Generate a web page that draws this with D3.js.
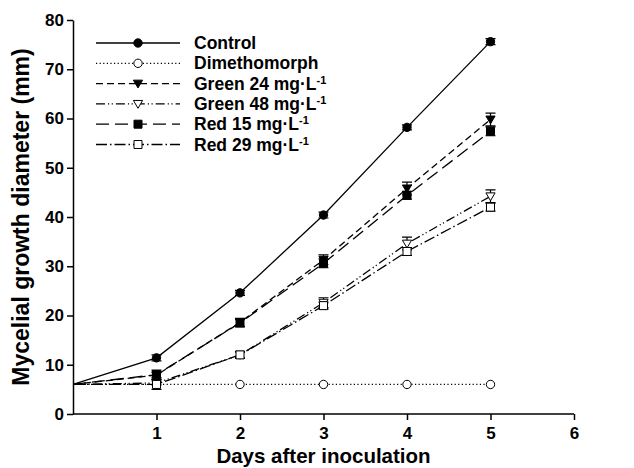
<!DOCTYPE html>
<html>
<head>
<meta charset="utf-8">
<script src="https://cdn.jsdelivr.net/npm/d3@7"></script>
<style>
  body { margin: 0; background: #fff; }
  svg { font-family: "Liberation Sans", Arial, sans-serif; }
  .axis path, .axis line { stroke: #000; stroke-width: 1.5; }
  .axis text { font-size: 17px; font-weight: bold; fill: #000; font-family: "Liberation Sans", Arial, sans-serif; }
</style>
</head>
<body>
<svg width="634" height="468"></svg>
<script>
'use strict';

// days after inoculation
const days = [0, 1, 2, 3, 4, 5];
const xTicks = [1, 2, 3, 4, 5, 6];
const yTicks = [0, 10, 20, 30, 40, 50, 60, 70, 80];

const control = [6, 11.4, 24.6, 40.4, 58.2, 75.6];
const dimethomorph = [6, 6, 6, 6, 6, 6];
const green24 = [6, 7.9, 18.6, 31.3, 45.8, 59.8];
const green48 = [6, 6.3, 12, 22.6, 34.6, 44.2];
const red15 = [6, 8, 18.5, 30.6, 44.4, 57.4];
const red29 = [6, 6, 12, 22, 33, 42];

// standard errors (mm)
const controlErr = [0, 0.6, 0.5, 0.6, 0.5, 0.6];
const dimethomorphErr = [0, 0, 0, 0, 0, 0];
const green24Err = [0, 0.5, 0.8, 1.0, 1.3, 1.3];
const green48Err = [0, 0.4, 0.6, 1.0, 1.3, 1.3];
const red15Err = [0, 0.9, 0.8, 0.9, 0.8, 0.9];
const red29Err = [0, 1.0, 0.7, 0.7, 0.8, 0.8];

const seriesNames = ["Control", "Dimethomorph", "Green 24 mg·L", "Green 48 mg·L", "Red 15 mg·L", "Red 29 mg·L"];
const unitSup = [false, false, true, true, true, true];

const series = [
    { name: seriesNames[0], values: control, err: controlErr, dash: null, sym: d3.symbolCircle, fill: "#000", size: 55 },
    { name: seriesNames[1], values: dimethomorph, err: dimethomorphErr, dash: "1.2,2.4", sym: d3.symbolCircle, fill: "#fff", size: 55 },
    { name: seriesNames[2], values: green24, err: green24Err, dash: "7,4", sym: "tri", fill: "#000", size: 55 },
    { name: seriesNames[3], values: green48, err: green48Err, dash: "9,3,1.2,2.5,1.2,3", sym: "tri", fill: "#fff", size: 55 },
    { name: seriesNames[4], values: red15, err: red15Err, dash: "13,6", sym: d3.symbolSquare, fill: "#000", size: 64 },
    { name: seriesNames[5], values: red29, err: red29Err, dash: "11,3,1.5,3", sym: d3.symbolSquare, fill: "#fff", size: 64 }
];

const svg = d3.select("svg"),
    margin = { top: 20, right: 60, bottom: 54, left: 73 },
    width = +svg.attr("width") - margin.left - margin.right,
    height = +svg.attr("height") - margin.top - margin.bottom;

const x = d3.scaleLinear().domain([0, 6]).range([0, width]),
    y = d3.scaleLinear().domain([0, 80]).range([height, 0]);

const g = svg.append("g")
    .attr("transform", `translate(${margin.left},${margin.top})`);

const markerPath = (sym, size) => {
    if (sym === "tri") {
        const r = Math.sqrt(size) * 0.62;
        return `M${-r},${-r * 0.75}L${r},${-r * 0.75}L0,${r * 0.95}Z`;
    }
    return d3.symbol().type(sym).size(size)();
};

// axes
g.append("g")
    .attr("class", "axis")
    .attr("transform", `translate(0,${height})`)
    .call(d3.axisBottom(x).tickValues(xTicks).tickFormat(d3.format("d")).tickSize(6).tickSizeOuter(0).tickPadding(7))
    .call(ax => ax.select(".domain").attr("d", `M0,0H${x(6)}`));

g.append("g")
    .attr("class", "axis")
    .call(d3.axisLeft(y).tickValues(yTicks).tickSize(6).tickSizeOuter(0).tickPadding(3));

const line = d3.line()
    .x((d, i) => x(days[i]))
    .y(d => y(d));

series.forEach(s => {
    const sg = g.append("g");
    sg.append("path")
        .datum(s.values)
        .attr("fill", "none")
        .attr("stroke", "#000")
        .attr("stroke-width", 1.3)
        .attr("stroke-dasharray", s.dash)
        .attr("d", line);

    // error bars (skip day 0)
    days.slice(1).forEach(dd => {
        const v = s.values[dd], e = s.err[dd];
        if (!e) return;
        sg.append("path")
            .attr("stroke", "#000")
            .attr("stroke-width", 1.2)
            .attr("fill", "none")
            .attr("d", `M${x(dd)},${y(v - e)}V${y(v + e)}M${x(dd) - 5},${y(v + e)}H${x(dd) + 5}M${x(dd) - 5},${y(v - e)}H${x(dd) + 5}`);
    });

    sg.selectAll("path.mk")
        .data(days.slice(1))
        .join("path")
        .attr("class", "mk")
        .attr("transform", dd => `translate(${x(dd)},${y(s.values[dd])})`)
        .attr("d", markerPath(s.sym, s.size))
        .attr("fill", s.fill)
        .attr("stroke", "#000")
        .attr("stroke-width", 1);
});

// legend
const legend = g.append("g").attr("transform", "translate(23,23)");
series.forEach((s, i) => {
    const row = legend.append("g").attr("transform", `translate(0,${i * 20.3})`);
    row.append("line")
        .attr("x1", 0).attr("x2", 84)
        .attr("stroke", "#000").attr("stroke-width", 1.3)
        .attr("stroke-dasharray", s.dash);
    row.append("path")
        .attr("transform", "translate(42,0)")
        .attr("d", markerPath(s.sym, s.size))
        .attr("fill", s.fill)
        .attr("stroke", "#000");
    const t = row.append("text")
        .attr("x", 98).attr("y", 6)
        .attr("font-size", 17.5).attr("font-weight", "bold");
    t.append("tspan").text(s.name);
    if (unitSup[i])
        t.append("tspan").attr("dy", -6).attr("font-size", 11).text("-1");
});

// axis titles
svg.append("text")
    .attr("x", margin.left + x(3)).attr("y", 463)
    .attr("text-anchor", "middle")
    .attr("font-size", 20.5).attr("font-weight", "bold")
    .text("Days after inoculation");

svg.append("text")
    .attr("transform", "translate(29,217) rotate(-90)")
    .attr("text-anchor", "middle")
    .attr("font-size", 23).attr("font-weight", "bold")
    .text("Mycelial growth diameter (mm)");
</script>
</body>
</html>
